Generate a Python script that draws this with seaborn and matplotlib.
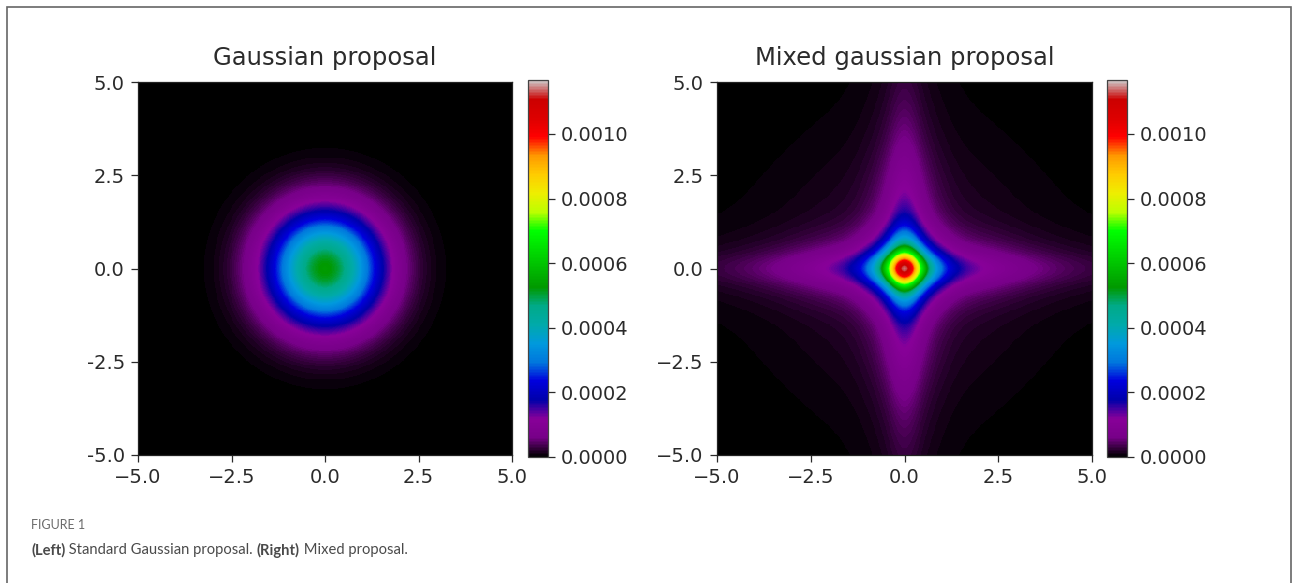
import numpy as np
import pandas as pd
import matplotlib
matplotlib.use("Agg")
import matplotlib.pyplot as plt
import seaborn as sns
from matplotlib.patches import Rectangle

plt.rcParams['font.family'] = ['DejaVu Sans']

# Values
extent = [-5.0, 5.0]
tick_values = [-5.0, -2.5, 0.0, 2.5, 5.0]
x_tick_labels = ["\u22125.0", "\u22122.5", "0.0", "2.5", "5.0"]
left_y_labels = ["5.0", "2.5", "0.0", "-2.5", "-5.0"]
right_y_labels = ["5.0", "2.5", "0.0", "\u22122.5", "\u22125.0"]
cbar_ticks = [0.0, 0.0002, 0.0004, 0.0006, 0.0008, 0.0010]
color_max = 0.001167

# left panel: single isotropic gaussian
gauss_peak = 0.00053
gauss_sigma = 1.05

# right panel: each axis is a 1D gaussian mixture, density = product of both
mix_peak = 0.00114
mix_weights = [0.45, 0.42, 0.13, 0.035]
mix_sigmas = [0.3, 0.62, 2.0, 5.0]

titles = ["Gaussian proposal", "Mixed gaussian proposal"]

n = 400
grid = np.linspace(extent[0], extent[1], n)
gx, gy = np.meshgrid(grid, grid[::-1])  # row 0 = top (y = 5)

gauss = gauss_peak * np.exp(-(gx ** 2 + gy ** 2) / (2 * gauss_sigma ** 2))


def mix_1d(t):
    g = sum(w * np.exp(-t ** 2 / (2 * s ** 2)) for w, s in zip(mix_weights, mix_sigmas))
    return g / sum(mix_weights)


mixed = mix_peak * mix_1d(gx) * mix_1d(gy)

W, H = 1293, 583
fig = plt.figure(figsize=(W / 100, H / 100), dpi=100)


def fbox(x0, y0, x1, y1):
    return [x0 / W, 1 - y1 / H, (x1 - x0) / W, (y1 - y0) / H]


panels = [
    (gauss, fbox(138, 82, 512, 455), fbox(528, 80, 548, 457), left_y_labels),
    (mixed, fbox(717, 82, 1092, 455), fbox(1107, 80, 1127, 457), right_y_labels),
]

tick_color = "#2b2b2b"
pos = (np.array(tick_values) - extent[0]) / (extent[1] - extent[0]) * n

for (data, abox, cbox, ylabs), title in zip(panels, titles):
    ax = fig.add_axes(abox)
    cax = fig.add_axes(cbox)
    sns.heatmap(pd.DataFrame(data), ax=ax, cbar_ax=cax, cmap="nipy_spectral",
                vmin=0, vmax=color_max, xticklabels=False, yticklabels=False,
                rasterized=True)
    for s in ax.spines.values():
        s.set_visible(True)
        s.set_linewidth(0.9)
        s.set_color("#222222")
    ax.set_xticks(pos)
    ax.set_xticklabels(x_tick_labels)
    ax.set_yticks(pos)
    ax.set_yticklabels(ylabs, rotation=0)
    ax.tick_params(labelsize=14, colors=tick_color, length=5, width=0.9, pad=4.5)
    ax.set_title(title, fontsize=17.5, color=tick_color, pad=12)

    cb = ax.collections[0].colorbar
    cb.outline.set_linewidth(0.9)
    cb.outline.set_edgecolor("#444444")
    cb.set_ticks(cbar_ticks)
    cb.set_ticklabels([f"{v:.4f}" for v in cbar_ticks])
    cax.tick_params(labelsize=14, colors=tick_color, length=5, width=0.9, pad=4.5)

# page frame around the figure
fig.patches.append(Rectangle((7 / W, -0.05), (1291 - 7) / W, 1.05 - 7 / H,
                             transform=fig.transFigure, fill=False,
                             edgecolor="#666666", linewidth=1.2))

cap_font = ["Lato", "DejaVu Sans"]
fig.text(31 / W, 1 - 525 / H, "FIGURE 1", fontsize=9, color="#6a6a6a",
         family=cap_font, va="center", ha="left")

# caption with bold run-in labels
parts = [("(Left)", "bold"), (" Standard Gaussian proposal. ", "normal"),
         ("(Right)", "bold"), (" Mixed proposal.", "normal")]
renderer = fig.canvas.get_renderer()
x = 31
for txt, wt in parts:
    t = fig.text(x / W, 1 - 550 / H, txt, fontsize=10.6, color="#4a4a4a",
                 family=cap_font, weight=wt, va="center", ha="left")
    bb = t.get_window_extent(renderer=renderer)
    x += bb.width

fig.savefig("out.png", dpi=100)
